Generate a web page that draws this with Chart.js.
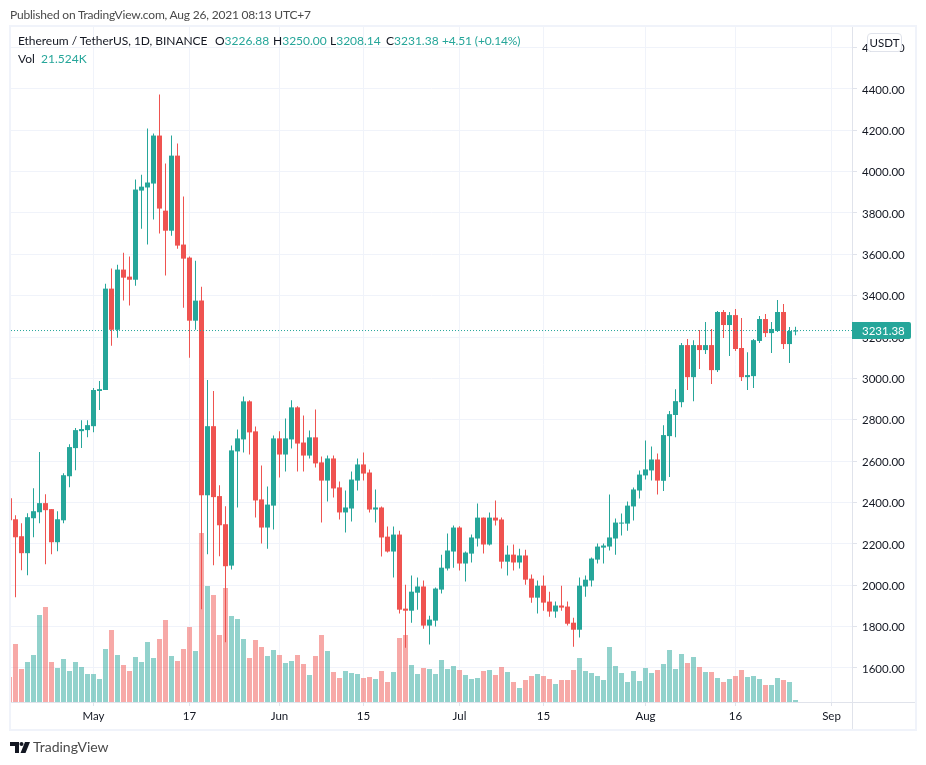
<!DOCTYPE html>
<html>
<head>
<meta charset="utf-8">
<title>ETHUSDT</title>
<script src="https://cdn.jsdelivr.net/npm/chart.js@4/dist/chart.umd.min.js"></script>
<style>
    html, body { margin: 0; padding: 0; background: #fff; }
    body { width: 926px; height: 765px; position: relative; overflow: hidden; font-family: Lato, sans-serif; font-size: 12px; color: #131722; }
    canvas { position: absolute; left: 0; top: 0; }
    .txt { position: absolute; white-space: nowrap; line-height: 16px; }
    .val { color: #26a69a; }
    #frame { position: absolute; left: 9px; top: 25px; width: 908px; height: 706px; box-sizing: border-box; border: 2px solid #f0f3fa; }
    #unit { position: absolute; left: 867px; top: 33px; width: 35px; height: 19px; box-sizing: border-box; background: #fff; border: 1px solid #e0e3eb; border-radius: 4px; text-align: center; line-height: 17px; font-size: 11.5px; }
</style>
</head>
<body>
<canvas id="ethChart" width="926" height="765"></canvas>
<div id="frame"></div>
<div class="txt" style="left:10px;top:7px;color:#4a4a4a;letter-spacing:-0.2px">Published on TradingView.com, Aug 26, 2021 08:13 UTC+7</div>
<div class="txt" style="left:18px;top:33px;letter-spacing:-0.05px">Ethereum / TetherUS, 1D, BINANCE</div>
<div class="txt" style="left:215px;top:33px">O<span class="val">3226.88</span></div>
<div class="txt" style="left:273px;top:33px">H<span class="val">3250.00</span></div>
<div class="txt" style="left:330px;top:33px">L<span class="val">3208.14</span></div>
<div class="txt" style="left:386px;top:33px">C<span class="val">3231.38</span></div>
<div class="txt val" style="left:442px;top:33px;letter-spacing:-0.15px">+4.51 (+0.14%)</div>
<div class="txt" style="left:18px;top:51px">Vol</div>
<div class="txt val" style="left:41px;top:51px">21.524K</div>
<div id="unit">USDT</div>
<svg style="position:absolute;left:10px;top:742px" width="20" height="11" viewBox="0 0 20 11">
    <path d="M0 0h9v11H5V4H0z" fill="#131722"/>
    <circle cx="11.5" cy="2" r="2" fill="#131722"/>
    <path d="M15 0h5l-4.5 11h-5z" fill="#131722"/>
</svg>
<div class="txt" style="left:33px;top:739px;font-size:14px;color:#4a4a4a">TradingView</div>

<script>
// day 0 is Apr 17 2021, last candle (day 131) is Aug 26 2021
var opens = [
    2421, 2319, 2237, 2155, 2324, 2353, 2397, 2368, 2208, 2314,
    2527, 2663, 2745, 2750, 2769, 2939, 2944, 3434, 3235, 3526,
    3492, 3477, 3908, 3923, 3942, 4174, 3811, 3714, 4077, 3647,
    3584, 3279, 3376, 2435, 2769, 2431, 2295, 2095, 2647, 2705,
    2889, 2744, 2415, 2279, 2385, 2710, 2632, 2705, 2860, 2690,
    2627, 2715, 2594, 2506, 2613, 2473, 2352, 2371, 2506, 2584,
    2545, 2366, 2376, 2235, 2163, 2245, 1887, 1877, 1964, 1994,
    1805, 1829, 1979, 2081, 2163, 2279, 2105, 2153, 2226, 2327,
    2197, 2327, 2318, 2114, 2148, 2110, 2144, 2032, 1940, 1998,
    1921, 1873, 1902, 1897, 1819, 1785, 1994, 2023, 2124, 2182,
    2187, 2226, 2298, 2298, 2381, 2458, 2531, 2555, 2608, 2505,
    2721, 2823, 2885, 3161, 3006, 3161, 3137, 3161, 3040, 3321,
    3258, 3306, 3147, 3006, 3011, 3181, 3287, 3219, 3229, 3321,
    3166, 3226.88
];
var highs = [
    2445, 2339, 2300, 2348, 2469, 2644, 2440, 2368, 2358, 2542,
    2682, 2760, 2798, 2798, 2953, 2987, 3458, 3531, 3550, 3608,
    3589, 3961, 3985, 4208, 4184, 4373, 4039, 4174, 4135, 3879,
    3589, 3569, 3443, 2992, 2939, 2484, 2382, 2676, 2753, 2913,
    2894, 2768, 2579, 2477, 2724, 2744, 2806, 2894, 2865, 2821,
    2748, 2850, 2623, 2627, 2627, 2502, 2458, 2550, 2613, 2642,
    2560, 2463, 2381, 2284, 2284, 2264, 2003, 2047, 2037, 2023,
    1853, 1989, 2148, 2250, 2289, 2285, 2163, 2245, 2395, 2327,
    2352, 2410, 2327, 2192, 2197, 2177, 2172, 2052, 2023, 2047,
    1969, 1921, 1998, 1921, 1843, 2037, 2047, 2134, 2202, 2202,
    2439, 2323, 2347, 2405, 2473, 2555, 2700, 2671, 2637, 2774,
    2842, 2948, 3171, 3190, 3185, 3234, 3273, 3239, 3326, 3331,
    3321, 3335, 3292, 3127, 3190, 3302, 3311, 3273, 3379, 3360,
    3248, 3250
];
var lows = [
    2290, 1942, 2073, 2048, 2232, 2300, 2102, 2150, 2164, 2300,
    2474, 2556, 2663, 2716, 2740, 2847, 2944, 3158, 3197, 3376,
    3352, 3448, 3724, 3647, 3768, 3700, 3497, 3690, 3627, 3342,
    3100, 3235, 1884, 2150, 2097, 2140, 1724, 2076, 2376, 2642,
    2632, 2327, 2202, 2177, 2269, 2521, 2550, 2661, 2550, 2550,
    2613, 2569, 2303, 2405, 2424, 2318, 2255, 2308, 2458, 2506,
    2352, 2303, 2139, 2158, 2037, 1863, 1698, 1819, 1882, 1790,
    1713, 1800, 1960, 2071, 2085, 2071, 2018, 2110, 2187, 2153,
    2192, 2289, 2081, 2047, 2071, 2081, 2003, 1916, 1863, 1877,
    1848, 1843, 1877, 1805, 1703, 1747, 1945, 1994, 2105, 2105,
    2168, 2148, 2240, 2264, 2313, 2419, 2511, 2506, 2439, 2456,
    2523, 2716, 2861, 2944, 2890, 3045, 3118, 2973, 3031, 3195,
    3108, 3132, 2987, 2944, 2953, 3171, 3200, 3123, 3224, 3142,
    3074, 3208.14
];
var closes = [
    2314, 2232, 2155, 2329, 2358, 2397, 2363, 2208, 2319, 2532,
    2668, 2750, 2755, 2774, 2944, 2948, 3434, 3235, 3526, 3487,
    3477, 3913, 3927, 3947, 4174, 3821, 3714, 4077, 3642, 3579,
    3279, 3376, 2435, 2769, 2426, 2290, 2092, 2652, 2710, 2889,
    2739, 2410, 2279, 2390, 2710, 2632, 2710, 2860, 2685, 2627,
    2715, 2589, 2506, 2613, 2468, 2352, 2376, 2511, 2584, 2540,
    2366, 2376, 2231, 2163, 2245, 1882, 1877, 1969, 1994, 1805,
    1834, 1984, 2085, 2168, 2279, 2105, 2158, 2231, 2327, 2197,
    2327, 2313, 2114, 2148, 2110, 2144, 2027, 1940, 1998, 1916,
    1873, 1902, 1892, 1814, 1785, 1998, 2027, 2129, 2187, 2192,
    2231, 2303, 2303, 2385, 2463, 2535, 2560, 2608, 2506, 2726,
    2827, 2890, 3161, 3006, 3161, 3137, 3161, 3040, 3321, 3258,
    3306, 3142, 3006, 3016, 3185, 3287, 3219, 3239, 3321, 3166,
    3229, 3231.38
];
// volume in thousands of ETH
var volumes = [
    450, 1044, 594, 720, 846, 1566, 1710, 720, 612, 774,
    558, 720, 630, 504, 504, 414, 954, 1296, 846, 666,
    558, 810, 720, 1080, 792, 1134, 1476, 828, 738, 954,
    1350, 918, 3042, 2088, 1926, 1206, 2052, 1548, 1494, 1134,
    792, 1116, 990, 828, 936, 846, 702, 738, 846, 684,
    486, 828, 1206, 918, 540, 432, 558, 522, 504, 432,
    450, 414, 558, 360, 540, 1152, 1206, 666, 504, 612,
    594, 504, 756, 594, 648, 576, 486, 414, 432, 558,
    576, 486, 630, 540, 360, 252, 396, 468, 504, 468,
    414, 324, 396, 396, 576, 792, 558, 522, 468, 396,
    990, 648, 522, 360, 558, 378, 612, 522, 576, 684,
    936, 594, 864, 702, 810, 630, 540, 540, 432, 360,
    414, 468, 576, 450, 468, 414, 306, 306, 432, 396,
    360, 21.524
];
var priceTicks = [1600, 1800, 2000, 2200, 2400, 2600, 2800, 3000, 3200, 3400, 3600, 3800, 4000, 4200, 4400, 4600];
var tickDays = [14, 30, 45, 59, 75, 89, 106, 121, 137];
var tickLabels = ['May', '17', 'Jun', '15', 'Jul', '15', 'Aug', '16', 'Sep'];

var GREEN = '#26a69a', RED = '#ef5350';
var GREEN_VOL = 'rgba(38,166,154,0.5)', RED_VOL = 'rgba(239,83,80,0.5)';
var GRID = '#f0f3fa', AXIS = '#e0e3eb';
var FONT = { family: 'Lato, sans-serif', size: 11.5 };

var xMin = 0.25, xMax = 140.4167;
var lastClose = closes[closes.length - 1];

var bodies = [], wicks = [], vols = [], candleColors = [], volColors = [];
for (var i = 0; i < closes.length; i++) {
    var up = closes[i] >= opens[i];
    bodies.push({ x: i, y: [opens[i], closes[i]] });
    wicks.push({ x: i, y: [lows[i], highs[i]] });
    vols.push({ x: i, y: volumes[i] });
    candleColors.push(up ? GREEN : RED);
    volColors.push(up ? GREEN_VOL : RED_VOL);
}

// axis lines running past the pane, and the last price tag
var axisExtras = {
    id: 'axisExtras',
    afterDraw: function(chart) {
        var c = chart.ctx, a = chart.chartArea;
        var y = Math.round(chart.scales.y.getPixelForValue(lastClose));
        c.save();
        c.fillStyle = AXIS;
        c.fillRect(a.right, a.top, 1, 702 - a.top + 27);
        c.fillRect(a.right, a.bottom, 64, 1);
        c.fillStyle = GREEN;
        c.beginPath();
        c.roundRect(a.right, y - 9, 59, 17, [0, 2, 2, 0]);
        c.fill();
        c.fillStyle = '#fff';
        c.font = '11.5px Lato, sans-serif';
        c.textBaseline = 'middle';
        c.fillText(lastClose.toFixed(2), a.right + 10, y);
        c.restore();
    }
};

new Chart(document.getElementById('ethChart').getContext('2d'), {
    type: 'bar',
    plugins: [axisExtras],
    data: {
        datasets: [
            { type: 'line', data: [{ x: xMin, y: lastClose }, { x: xMax, y: lastClose }], borderColor: GREEN, borderWidth: 1, borderDash: [1, 2], pointRadius: 0, order: 0, yAxisID: 'y' },
            { data: bodies, backgroundColor: candleColors, barThickness: 5, minBarLength: 1, grouped: false, inflateAmount: 0, order: 1, yAxisID: 'y' },
            { data: wicks, backgroundColor: candleColors, barThickness: 1, grouped: false, inflateAmount: 0, order: 2, yAxisID: 'y' },
            { data: vols, backgroundColor: volColors, barThickness: 5, minBarLength: 2, grouped: false, inflateAmount: 0, order: 3, yAxisID: 'vol' }
        ]
    },
    options: {
        responsive: false,
        animation: false,
        devicePixelRatio: 1,
        layout: { padding: { left: 11, top: 27, right: 10, bottom: 36 } },
        plugins: { legend: { display: false }, tooltip: { enabled: false } },
        scales: {
            x: {
                type: 'linear',
                min: xMin,
                max: xMax,
                offset: false,
                grid: { offset: false, color: GRID, tickColor: AXIS, tickLength: 4 },
                border: { color: AXIS },
                afterBuildTicks: function(scale) {
                    scale.ticks = tickDays.map(function(d) { return { value: d }; });
                },
                afterFit: function(scale) { scale.height = 27; },
                ticks: {
                    autoSkip: false,
                    maxRotation: 0,
                    color: '#131722',
                    font: FONT,
                    padding: 3,
                    callback: function(v) { return tickLabels[tickDays.indexOf(v)]; }
                }
            },
            y: {
                position: 'right',
                min: 1435.6,
                max: 4698.8,
                grid: { color: GRID, tickColor: AXIS, tickLength: 5 },
                border: { color: AXIS },
                afterBuildTicks: function(scale) {
                    scale.ticks = priceTicks.map(function(p) { return { value: p }; });
                },
                afterFit: function(scale) { scale.width = 64; },
                ticks: {
                    color: '#131722',
                    font: FONT,
                    padding: 5,
                    labelOffset: 1,
                    callback: function(v) { return v.toFixed(2); }
                }
            },
            vol: { display: false, min: 0, max: 12150 }
        }
    }
});
</script>
</body>
</html>
